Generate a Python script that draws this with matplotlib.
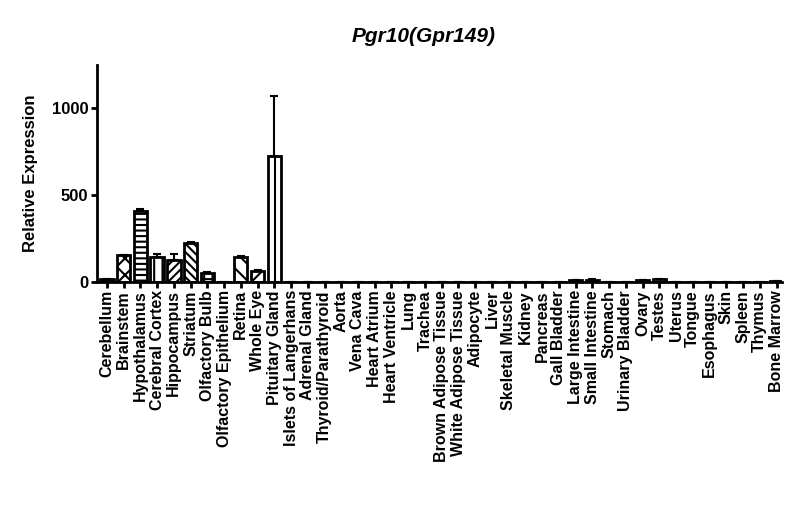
import matplotlib
matplotlib.use('Agg')
import matplotlib.pyplot as plt
import numpy as np

plt.rcParams['font.family'] = ['Liberation Sans', 'DejaVu Sans']
plt.rcParams['hatch.linewidth'] = 1.5

tissues = ['Cerebellum', 'Brainstem', 'Hypothalamus', 'Cerebral Cortex', 'Hippocampus',
           'Striatum', 'Olfactory Bulb', 'Olfactory Epithelium', 'Retina', 'Whole Eye',
           'Pituitary Gland', 'Islets of Langerhans', 'Adrenal Gland', 'Thyroid/Parathyroid',
           'Aorta', 'Vena Cava', 'Heart Atrium', 'Heart Ventricle', 'Lung', 'Trachea',
           'Brown Adipose Tissue', 'White Adipose Tissue', 'Adipocyte', 'Liver',
           'Skeletal Muscle', 'Kidney', 'Pancreas', 'Gall Bladder', 'Large Intestine',
           'Small Intestine', 'Stomach', 'Urinary Bladder', 'Ovary', 'Testes', 'Uterus',
           'Tongue', 'Esophagus', 'Skin', 'Spleen', 'Thymus', 'Bone Marrow']
values = [15, 152, 407, 144, 128, 226, 51, 1, 144, 64,
          726, 1, 1, 1, 1, 1, 1, 1, 1, 1,
          1, 1, 1, 1, 1, 1, 1, 1, 8,
          12, 1, 1, 8, 14, 1,
          1, 1, 1, 1, 1, 5]
errors = [3, 4, 15, 16, 33, 4, 7, 0, 3, 2,
          342, 0, 0, 0, 0, 0, 0, 0, 0, 0,
          0, 0, 0, 0, 0, 0, 0, 0, 2,
          3, 0, 0, 2, 4, 0,
          0, 0, 0, 0, 0, 1]
hatches = ['', 'xx', '---', '||', '////', '\\\\\\\\', '++', '', '\\\\', '//', '|']

fig = plt.figure(figsize=(8, 5.18), dpi=100)
ax = fig.add_axes([0.121, 0.456, 0.856, 0.419])

x = np.arange(len(tissues))
# only the upper half of the error bar is drawn
yerr = [np.zeros(len(errors)), errors]
bars = ax.bar(x, values, width=0.8, color='white', edgecolor='black', linewidth=2,
              yerr=yerr, error_kw=dict(ecolor='black', elinewidth=1.5, capsize=3, capthick=1.5))
bars[0].set_facecolor('black')
for b, h in zip(bars, hatches):
    b.set_hatch(h)

ax.set_xlim(-0.6, 40.3)
ax.set_ylim(0, 1250)
ax.set_yticks([0, 500, 1000])
ax.set_xticks(x)
ax.set_xticklabels(tissues, rotation=90, fontsize=11.5, fontweight='bold')
for lab in ax.get_yticklabels():
    lab.set_fontweight('bold')
    lab.set_fontsize(12)
ax.spines['top'].set_visible(False)
ax.spines['right'].set_visible(False)
ax.spines['left'].set_linewidth(2)
ax.spines['bottom'].set_linewidth(2)
ax.tick_params(width=2, length=4, pad=2)
ax.set_ylabel('Relative Expression', fontsize=12, fontweight='bold', labelpad=10)
fig.text(0.529, 0.93, 'Pgr10(Gpr149)', ha='center', va='center', fontsize=15,
         fontweight='bold', fontstyle='italic')

fig.savefig('out.png', dpi=100)
